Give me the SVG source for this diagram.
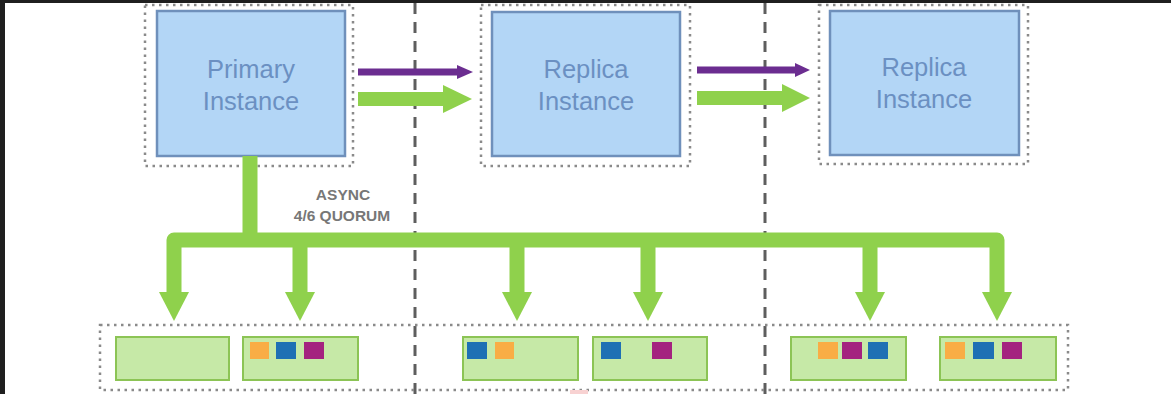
<svg xmlns="http://www.w3.org/2000/svg" width="1171" height="394" viewBox="0 0 1171 394">
<style>
.frame{fill:#1f1f1f}
.dot{fill:none;stroke:#8a8a8a;stroke-width:2.5;stroke-dasharray:2.5 4.5}
.inst{fill:#b3d6f6;stroke:#6f90bb;stroke-width:2.5}
.itxt{font-family:"Liberation Sans",Arial,sans-serif;font-size:25.5px;fill:#6b90c2;text-anchor:middle}
.sep{stroke:#5e5e5e;stroke-width:3;stroke-dasharray:11 8;fill:none}
.purple{stroke:#6b2d90;stroke-width:7;fill:none}
.purplehead{fill:#6b2d90}
.green{stroke:#8fd14c;stroke-width:14;fill:none}
.greenhead{fill:#8fd14c}
.bus{stroke:#8fd14c;stroke-width:15;fill:none;stroke-linejoin:round}
.seg{fill:#c6e9a7;stroke:#8cc455;stroke-width:2}
.o{fill:#f9ad45}
.b{fill:#1e70b4}
.m{fill:#a4237f}
.lbl{font-family:"Liberation Sans",Arial,sans-serif;font-size:15.5px;font-weight:bold;fill:#777;text-anchor:middle}
</style>
<rect width="1171" height="394" fill="#ffffff"/>
<rect class="frame" x="0" y="0" width="1171" height="3"/>
<rect class="frame" x="0" y="0" width="5" height="394"/>

<g id="separators">
<line class="sep" x1="415" y1="3" x2="415" y2="394"/>
<line class="sep" x1="765" y1="3" x2="765" y2="394"/>
</g>

<g id="primary">
<rect class="dot" x="145" y="5" width="208" height="161"/>
<rect class="inst" x="157" y="11" width="188" height="145"/>
<text class="itxt" x="251" y="78">Primary</text>
<text class="itxt" x="251" y="110">Instance</text>
</g>

<g id="replica1">
<rect class="dot" x="481" y="5" width="209" height="161"/>
<rect class="inst" x="492" y="12" width="188" height="144"/>
<text class="itxt" x="586" y="78">Replica</text>
<text class="itxt" x="586" y="110">Instance</text>
</g>

<g id="replica2">
<rect class="dot" x="819" y="5" width="209" height="159"/>
<rect class="inst" x="830" y="11" width="189" height="144"/>
<text class="itxt" x="924" y="76">Replica</text>
<text class="itxt" x="924" y="108">Instance</text>
</g>

<g id="storage">
<rect class="dot" x="100" y="325" width="968" height="65"/>
<g id="seg1"><rect class="seg" x="116" y="337" width="113" height="43"/></g>
<g id="seg2"><rect class="seg" x="243" y="337" width="115" height="43"/>
<rect class="o" x="250" y="342" width="19" height="17"/><rect class="b" x="276" y="342" width="20" height="17"/><rect class="m" x="304" y="342" width="20" height="17"/></g>
<g id="seg3"><rect class="seg" x="463" y="337" width="115" height="43"/>
<rect class="b" x="467" y="342" width="20" height="17"/><rect class="o" x="495" y="342" width="19" height="17"/></g>
<g id="seg4"><rect class="seg" x="593" y="337" width="114" height="43"/>
<rect class="b" x="601" y="342" width="20" height="17"/><rect class="m" x="652" y="342" width="20" height="17"/></g>
<g id="seg5"><rect class="seg" x="791" y="337" width="115" height="43"/>
<rect class="o" x="818" y="342" width="20" height="17"/><rect class="m" x="842" y="342" width="20" height="17"/><rect class="b" x="868" y="342" width="20" height="17"/></g>
<g id="seg6"><rect class="seg" x="940" y="337" width="116" height="43"/>
<rect class="o" x="945" y="342" width="20" height="17"/><rect class="b" x="973" y="342" width="21" height="17"/><rect class="m" x="1002" y="342" width="20" height="17"/></g>
</g>

<rect x="570" y="390" width="18" height="4" fill="#f8d2d2"/>

<g id="connectors">
<line class="purple" x1="358" y1="72" x2="459" y2="72"/>
<polygon class="purplehead" points="457,65 473,72 457,79"/>
<line class="green" x1="358" y1="99" x2="445" y2="99"/>
<polygon class="greenhead" points="443,85 472,99 443,113"/>
<line class="purple" x1="697" y1="70" x2="797" y2="70"/>
<polygon class="purplehead" points="795,63 810,70 795,77"/>
<line class="green" x1="697" y1="98" x2="784" y2="98"/>
<polygon class="greenhead" points="782,84 810,98 782,112"/>
<path class="bus" d="M250,156 V240"/>
<path class="bus" d="M174,296 V240 H997 V296"/>
<path class="bus" d="M300,240 V296 M517,240 V296 M648,240 V296 M870,240 V296"/>
<polygon class="greenhead" points="159,292 189,292 174,321"/>
<polygon class="greenhead" points="285,292 315,292 300,321"/>
<polygon class="greenhead" points="502,292 532,292 517,321"/>
<polygon class="greenhead" points="633,292 663,292 648,321"/>
<polygon class="greenhead" points="855,292 885,292 870,321"/>
<polygon class="greenhead" points="982,292 1012,292 997,321"/>
<text class="lbl" x="343" y="200">ASYNC</text>
<text class="lbl" x="342" y="221">4/6 QUORUM</text>
</g>
</svg>
